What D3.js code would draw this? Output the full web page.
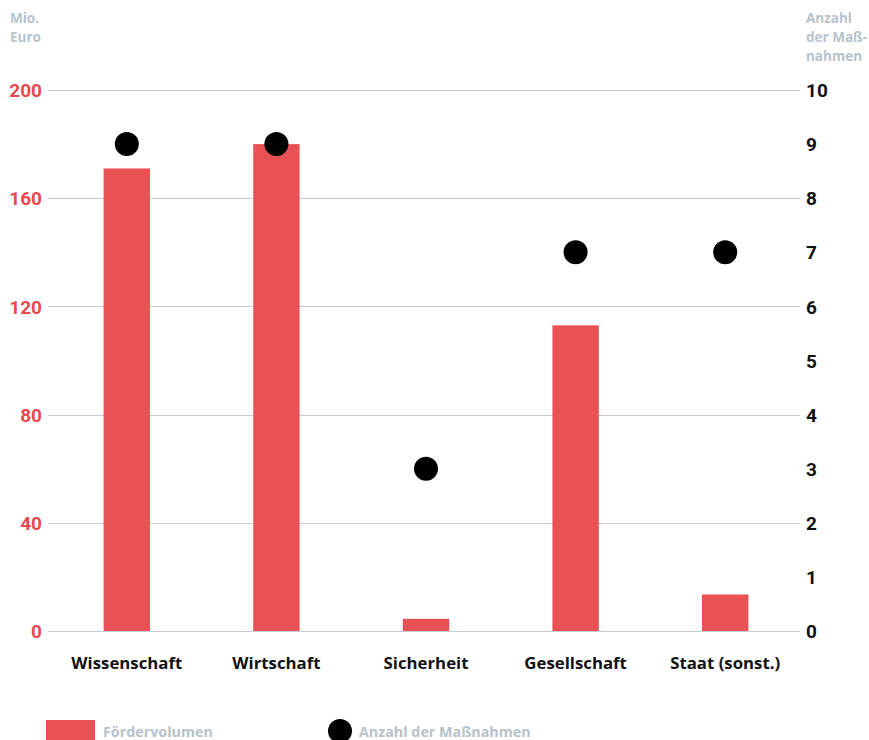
<!DOCTYPE html>
<meta charset="utf-8">
<style>
body { margin: 0; background: #fff; font-family: "Open Sans", "DejaVu Sans", sans-serif; }
.grid line { stroke: #c3ccd5; stroke-width: 1; shape-rendering: crispEdges; }
.grid path { display: none; }
.axis path, .axis line { display: none; }
.yl text { fill: #e84a4f; font: bold 19px Roboto, sans-serif; }
.yr text { fill: #111; font: bold 19px Roboto, sans-serif; }
.xl text { fill: #111; font: bold 16.8px "Open Sans", sans-serif; }
.head { fill: #b7c2cb; font: bold 13.5px "Open Sans", sans-serif; }
.leg { fill: #b7c2cb; font: bold 14.3px "Open Sans", sans-serif; }
</style>
<div id="chart"></div>
<script src="https://cdnjs.cloudflare.com/ajax/libs/d3/7.8.5/d3.min.js"></script>
<script>
var categories = ["Wissenschaft", "Wirtschaft", "Sicherheit", "Gesellschaft", "Staat (sonst.)"];
var volumen = [171, 180, 4.5, 113, 13.5];
var massnahmen = [9, 9, 3, 7, 7];
var leftTicks = [0, 40, 80, 120, 160, 200];
var rightTicks = [0, 1, 2, 3, 4, 5, 6, 7, 8, 9, 10];

var W = 869, H = 740;
var svg = d3.select("#chart").append("svg").attr("width", W).attr("height", H);

var x = d3.scaleBand().domain(categories).range([52, 800]).paddingInner(0.69).paddingOuter(0.345);
var yL = d3.scaleLinear().domain([0, 200]).range([631, 90]);
var yR = d3.scaleLinear().domain([0, 10]).range([631, 90]);

// gridlines
svg.append("g").attr("class", "grid")
  .attr("transform", "translate(48,0)")
  .call(d3.axisLeft(yL).tickValues(leftTicks).tickSize(-752).tickFormat(""));

// left axis
svg.append("g").attr("class", "axis yl")
  .attr("transform", "translate(42,0)")
  .call(d3.axisLeft(yL).tickValues(leftTicks).tickSize(0).tickPadding(0))
  .selectAll("text").attr("dy", "0.35em");

// right axis
svg.append("g").attr("class", "axis yr")
  .attr("transform", "translate(806,0)")
  .call(d3.axisRight(yR).tickValues(rightTicks).tickSize(0).tickPadding(0))
  .selectAll("text").attr("dy", "0.35em");

// bars
svg.selectAll(".bar").data(categories).enter().append("rect")
  .attr("class", "bar")
  .attr("x", function(d) { return x(d); })
  .attr("width", x.bandwidth())
  .attr("y", function(d, i) { return yL(volumen[i]); })
  .attr("height", function(d, i) { return yL(0) - yL(volumen[i]); })
  .attr("fill", "#e95254");

// dots
svg.selectAll(".dot").data(categories).enter().append("circle")
  .attr("cx", function(d) { return x(d) + x.bandwidth() / 2; })
  .attr("cy", function(d, i) { return yR(massnahmen[i]); })
  .attr("r", 12)
  .attr("fill", "#000");

// x labels
svg.append("g").attr("class", "axis xl")
  .attr("transform", "translate(0,657)")
  .call(d3.axisBottom(x).tickSize(0).tickPadding(0))
  .selectAll("text").attr("dy", "0.71em");

// headers
var hl = svg.append("text").attr("class", "head").attr("x", 10).attr("y", 23);
hl.append("tspan").attr("x", 10).text("Mio.");
hl.append("tspan").attr("x", 10).attr("dy", 19).text("Euro");
var hr = svg.append("text").attr("class", "head").attr("x", 806).attr("y", 23);
hr.append("tspan").attr("x", 806).text("Anzahl");
hr.append("tspan").attr("x", 806).attr("dy", 19).text("der Maß-");
hr.append("tspan").attr("x", 806).attr("dy", 19).text("nahmen");

// legend
svg.append("rect").attr("x", 46).attr("y", 720).attr("width", 49).attr("height", 22).attr("fill", "#e95254");
svg.append("text").attr("class", "leg").attr("x", 103).attr("y", 737).text("Fördervolumen");
svg.append("circle").attr("cx", 340).attr("cy", 731).attr("r", 12).attr("fill", "#000");
svg.append("text").attr("class", "leg").attr("x", 359).attr("y", 737).text("Anzahl der Maßnahmen");
</script>
